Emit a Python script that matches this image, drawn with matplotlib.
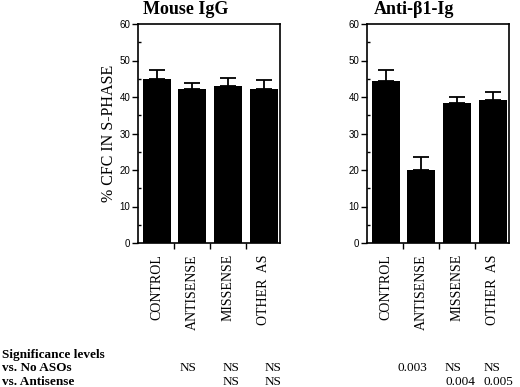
import matplotlib.pyplot as plt
import numpy as np

categories = ["CONTROL", "ANTISENSE", "MISSENSE", "OTHER  AS"]

igg_mean = [45.0, 42.3, 43.0, 42.3]
igg_err = [2.5, 1.4, 2.3, 2.4]

anti_mean = [44.5, 20.0, 38.3, 39.3]
anti_err = [2.9, 3.6, 1.7, 2.0]

row_labels = ["vs. No ASOs", "vs. Antisense"]
igg_sig = [["NS", "NS", "NS"], ["", "NS", "NS"]]
anti_sig = [["0.003", "NS", "NS"], ["", "0.004", "0.005"]]

serif = "Liberation Serif"
sans = "Liberation Sans"

fig = plt.figure(figsize=(5.2, 3.87), dpi=100)

ax1 = fig.add_axes([138 / 520, 1 - 243 / 387, 142 / 520, 219 / 387])
ax2 = fig.add_axes([367 / 520, 1 - 243 / 387, 142 / 520, 219 / 387])


def draw_panel(ax, means, errs):
    x = np.arange(len(means))
    ax.bar(x, means, width=0.78, color="black", zorder=2)
    ax.errorbar(x, means, yerr=[np.zeros(len(errs)), errs], fmt="none",
                ecolor="black", elinewidth=1.3, capsize=5.5, capthick=1.3, zorder=1)
    ax.set_xlim(-0.52, 3.45)
    ax.set_ylim(0, 60)
    ax.set_yticks(range(0, 61, 10))
    ax.set_yticks(range(5, 60, 10), minor=True)
    ax.set_yticklabels([str(v) for v in range(0, 61, 10)], fontfamily=sans, fontsize=7)
    ax.tick_params(axis="y", which="major", direction="out", length=4, width=1, pad=1.5)
    ax.tick_params(axis="y", which="minor", direction="in", length=2.5, width=1)
    ax.set_xticks(x)
    ax.set_xticklabels(categories, rotation=90, fontfamily=serif, fontsize=10)
    ax.set_xticks([0.5, 1.5, 2.5], minor=True)
    ax.tick_params(axis="x", which="major", length=0, pad=8)
    ax.tick_params(axis="x", which="minor", direction="out", length=4, width=1)
    for s in ax.spines.values():
        s.set_linewidth(1.2)


draw_panel(ax1, igg_mean, igg_err)
draw_panel(ax2, anti_mean, anti_err)

ax1.set_ylabel("% CFC IN S-PHASE", fontfamily=serif, fontsize=11.5, labelpad=2)

fig.text(143 / 520, 1 - 14 / 387, "Mouse IgG", fontfamily=serif, fontsize=13,
         fontweight="bold", va="baseline", ha="left")
fig.text(374 / 520, 1 - 14 / 387, "Anti-β1-Ig", fontfamily=serif, fontsize=13,
         fontweight="bold", va="baseline", ha="left")

# significance table under the panels
fig.text(2 / 520, 1 - 355 / 387, "Significance levels", fontfamily=serif,
         fontsize=9.5, fontweight="bold", va="center")
row_y = [368, 382]
for label, yy in zip(row_labels, row_y):
    fig.text(2 / 520, 1 - yy / 387, label, fontfamily=serif, fontsize=9.5,
             fontweight="bold", va="center")

igg_x = [180, 223, 265]
anti_x = [397, 445, 484]
for r, yy in enumerate(row_y):
    for xx, s in zip(igg_x, igg_sig[r]):
        fig.text(xx / 520, 1 - yy / 387, s, fontfamily=serif, fontsize=9.5, va="center")
    for xx, s in zip(anti_x, anti_sig[r]):
        fig.text(xx / 520, 1 - yy / 387, s, fontfamily=serif, fontsize=9.5, va="center")

fig.savefig("out.png", dpi=100)
